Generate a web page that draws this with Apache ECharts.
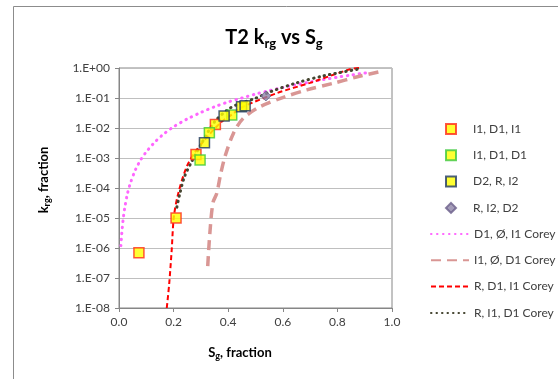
<!DOCTYPE html>
<html>
<head>
<meta charset="utf-8">
<script src="https://cdn.jsdelivr.net/npm/echarts@6/dist/echarts.min.js"></script>
<style>
  html, body { margin: 0; padding: 0; background: #fff; }
  #chart { width: 558px; height: 379px; }
</style>
</head>
<body>
<div id="chart"></div>
<script>
// measured points (Sg, krg)
const sgI1D1I1 = [0.073, 0.209, 0.282, 0.353];
const krgI1D1I1 = [7.0e-7, 1.0e-5, 1.3e-3, 1.3e-2];

const sgI1D1D1 = [0.297, 0.331, 0.413];
const krgI1D1D1 = [8.6e-4, 7.0e-3, 2.7e-2];

const sgD2RI2 = [0.313, 0.385, 0.449, 0.462];
const krgD2RI2 = [3.2e-3, 2.5e-2, 5.1e-2, 5.5e-2];

const sgRI2D2 = [0.538];
const krgRI2D2 = [0.117];

// Corey curves
const sgCoreyD1I1 = [0.007, 0.01, 0.015, 0.02, 0.03, 0.04, 0.06, 0.08, 0.1, 0.13, 0.16, 0.2, 0.25, 0.3, 0.35, 0.4, 0.45, 0.5, 0.55, 0.6, 0.65, 0.7, 0.75, 0.8, 0.85, 0.9, 0.91];
const krgCoreyD1I1 = [1.2e-6, 2.9e-6, 8.7e-6, 1.9e-5, 5.9e-5, 1.3e-4, 4.0e-4, 8.8e-4, 1.6e-3, 3.3e-3, 5.9e-3, 1.1e-2, 2.0e-2, 3.3e-2, 5.1e-2, 7.4e-2, 0.10, 0.135, 0.176, 0.224, 0.279, 0.342, 0.413, 0.493, 0.582, 0.68, 0.70];

const sgCoreyI1D1 = [0.325, 0.332, 0.344, 0.358, 0.372, 0.388, 0.419, 0.455, 0.516, 0.602, 0.688, 0.785, 0.87, 0.956];
const krgCoreyI1D1 = [2.5e-7, 2.5e-6, 3.2e-5, 6.6e-5, 2.8e-4, 1.1e-3, 6.6e-3, 2.1e-2, 5.1e-2, 0.105, 0.186, 0.31, 0.5, 0.76];

const sgCoreyRD1I1 = [0.175, 0.184, 0.193, 0.201, 0.217, 0.248, 0.285, 0.37, 0.413, 0.455, 0.578, 0.7, 0.846, 0.88];
const krgCoreyRD1I1 = [1e-8, 6.6e-8, 8.5e-7, 1.1e-5, 6.6e-5, 5.1e-4, 1.9e-3, 1.45e-2, 2.8e-2, 5.1e-2, 0.145, 0.32, 0.91, 1.0];

const sgCoreyRI1D1 = [0.212, 0.223, 0.24, 0.266, 0.3, 0.35, 0.4, 0.43, 0.5, 0.553, 0.651, 0.75, 0.877];
const krgCoreyRI1D1 = [2.3e-5, 6.6e-5, 2.4e-4, 7.5e-4, 2.8e-3, 1.6e-2, 4.2e-2, 5.9e-2, 0.098, 0.16, 0.32, 0.55, 0.92];

const zip = (xs, ys) => xs.map((x, i) => [x, ys[i]]);
const font = "Lato, 'Open Sans', sans-serif";

function squareSeries(name, xs, ys, border) {
  return {
    name, type: "scatter", z: 3,
    symbol: "rect", symbolSize: 10,
    itemStyle: { color: "#ffff00", borderColor: border, borderWidth: 1.5 },
    data: zip(xs, ys)
  };
}

function curveSeries(name, xs, ys, color, width, dash, cap) {
  return {
    name, type: "line", z: 2, smooth: 0.3,
    symbol: "none", showSymbol: false,
    lineStyle: { color, width, type: dash, cap },
    itemStyle: { color },
    data: zip(xs, ys)
  };
}

const chart = echarts.init(document.getElementById("chart"), null, { renderer: "canvas" });

chart.setOption({
  animation: false,
  backgroundColor: "#fff",
  textStyle: { fontFamily: font },
  grid: { left: 119, right: 166, top: 68, bottom: 71, show: true, borderColor: "#868686", borderWidth: 1 },
  xAxis: {
    type: "value", min: 0, max: 1, interval: 0.2,
    axisLine: { show: true, lineStyle: { color: "#868686" } },
    axisTick: { show: true, length: 4, lineStyle: { color: "#868686" } },
    splitLine: { show: false },
    axisLabel: { color: "#404040", fontSize: 12, margin: 8, formatter: v => v.toFixed(1) }
  },
  yAxis: {
    type: "log", logBase: 10, min: 1e-8, max: 1, interval: 1,
    axisLine: { show: true, lineStyle: { color: "#868686" } },
    axisTick: { show: true, length: 4, inside: false, lineStyle: { color: "#868686" } },
    splitLine: { show: true, lineStyle: { color: "#bfbfbf" } },
    axisLabel: {
      color: "#404040", fontSize: 12, margin: 9,
      formatter: v => {
        const e = Math.round(Math.log10(v));
        return "1.E" + (e >= 0 ? "+" : "-") + String(Math.abs(e)).padStart(2, "0");
      }
    }
  },
  legend: [
    {
      orient: "vertical", left: 440, top: 117, itemWidth: 10, itemHeight: 10, itemGap: 12.3,
      data: ["I1, D1, I1", "I1, D1, D1", "D2, R, I2", "R, I2, D2"],
      textStyle: { color: "#404040", fontSize: 12, lineHeight: 14, padding: [0, 0, 0, 12] }
    },
    {
      orient: "vertical", left: 425, top: 222, itemWidth: 38, itemHeight: 10, itemGap: 12.3,
      itemStyle: { opacity: 0 },
      data: ["D1, Ø, I1 Corey", "I1, Ø, D1 Corey", "R, D1, I1 Corey", "R, I1, D1 Corey"],
      textStyle: { color: "#404040", fontSize: 12, lineHeight: 14 }
    }
  ],
  graphic: [
    { type: "rect", shape: { x: 13.5, y: 6.5, width: 600, height: 400 }, style: { fill: null, stroke: "#8c8c8c", lineWidth: 1 }, silent: true },
    {
      type: "text", x: 274, y: 38,
      style: {
        text: "{a|T2 k}{s|rg}{a| vs S}{s|g}", align: "center", verticalAlign: "middle",
        rich: {
          a: { fontFamily: font, fontSize: 20, fontWeight: "bold", color: "#000", lineHeight: 24 },
          s: { fontFamily: font, fontSize: 13, fontWeight: "bold", color: "#000", lineHeight: 8, verticalAlign: "bottom" }
        }
      }
    },
    {
      type: "text", x: 240, y: 353,
      style: {
        text: "{a|S}{s|g}{a|, fraction}", align: "center", verticalAlign: "middle",
        rich: {
          a: { fontFamily: font, fontSize: 13, fontWeight: "bold", color: "#000", lineHeight: 16 },
          s: { fontFamily: font, fontSize: 9, fontWeight: "bold", color: "#000", lineHeight: 6, verticalAlign: "bottom" }
        }
      }
    },
    {
      type: "text", x: 44, y: 180, rotation: Math.PI / 2,
      style: {
        text: "{a|k}{s|rg}{a|, fraction}", align: "center", verticalAlign: "middle",
        rich: {
          a: { fontFamily: font, fontSize: 13, fontWeight: "bold", color: "#000", lineHeight: 16 },
          s: { fontFamily: font, fontSize: 9, fontWeight: "bold", color: "#000", lineHeight: 6, verticalAlign: "bottom" }
        }
      }
    }
  ],
  series: [
    squareSeries("I1, D1, I1", sgI1D1I1, krgI1D1I1, "#ff2a1a"),
    squareSeries("I1, D1, D1", sgI1D1D1, krgI1D1D1, "#3cc83c"),
    squareSeries("D2, R, I2", sgD2RI2, krgD2RI2, "#1f3864"),
    {
      name: "R, I2, D2", type: "scatter", z: 3,
      symbol: "diamond", symbolSize: 10,
      itemStyle: { color: "#8e84a8", borderColor: "#6a5e8a", borderWidth: 1 },
      data: zip(sgRI2D2, krgRI2D2)
    },
    curveSeries("D1, Ø, I1 Corey", sgCoreyD1I1, krgCoreyD1I1, "#ff66ff", 3, [0.5, 5.5], "round"),
    curveSeries("I1, Ø, D1 Corey", sgCoreyI1D1, krgCoreyI1D1, "#d99694", 3.5, [10, 6], "butt"),
    curveSeries("R, D1, I1 Corey", sgCoreyRD1I1, krgCoreyRD1I1, "#ff0000", 2, [5, 3], "butt"),
    curveSeries("R, I1, D1 Corey", sgCoreyRI1D1, krgCoreyRI1D1, "#454530", 3, [0.5, 5], "round")
  ]
});
</script>
</body>
</html>
